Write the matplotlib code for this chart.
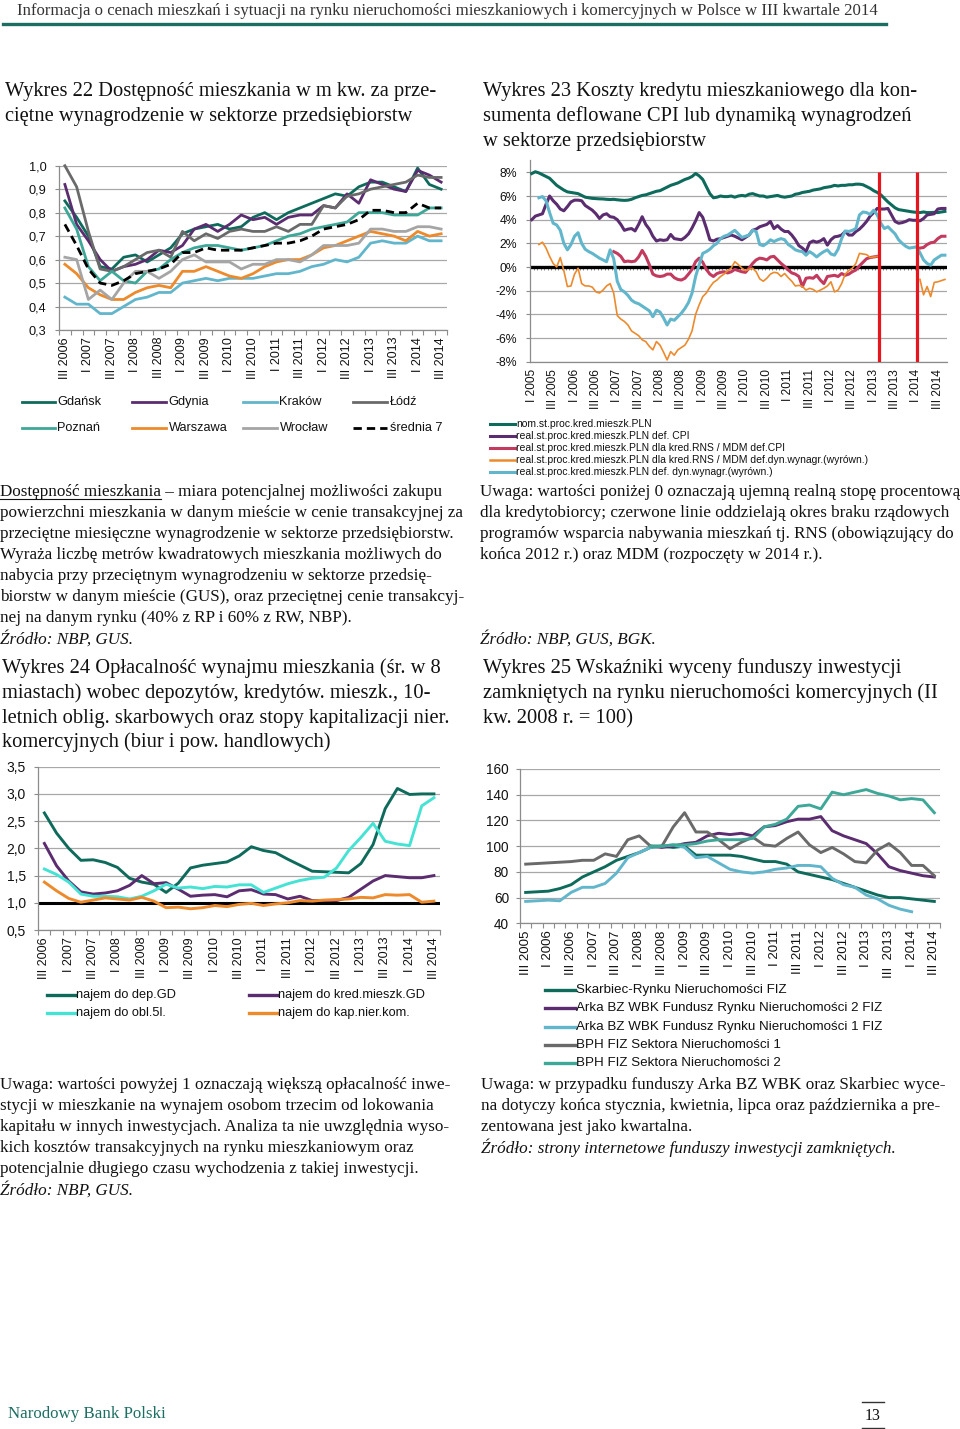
import numpy as np
import matplotlib
matplotlib.use('Agg')
import matplotlib.pyplot as plt
from matplotlib.lines import Line2D

nan = np.nan

# ---------------- Wykres 22 data (quarterly, III 2006 - III 2014) ----------------
lab22 = ['III 2006', 'I 2007', 'III 2007', 'I 2008', 'III 2008', 'I 2009', 'III 2009',
         'I 2010', 'III 2010', 'I 2011', 'III 2011', 'I 2012', 'III 2012', 'I 2013',
         'III 2013', 'I 2014', 'III 2014']
gdansk = [0.85, 0.78, 0.70, 0.57, 0.56, 0.61, 0.62, 0.59, 0.62, 0.65, 0.71, 0.73, 0.74, 0.75, 0.73, 0.74,
          0.78, 0.80, 0.77, 0.80, 0.82, 0.84, 0.86, 0.88, 0.87, 0.91, 0.93, 0.93, 0.91, 0.89, 0.99, 0.92, 0.90]
gdynia = [0.92, 0.75, 0.68, 0.60, 0.55, 0.57, 0.58, 0.60, 0.64, 0.63, 0.66, 0.73, 0.75, 0.72, 0.75, 0.79,
          0.77, 0.78, 0.75, 0.78, 0.79, 0.79, 0.83, 0.82, 0.88, 0.84, 0.94, 0.92, 0.90, 0.89, 0.98, 0.96, 0.93]
krakow = [0.44, 0.41, 0.41, 0.37, 0.37, 0.40, 0.43, 0.44, 0.46, 0.46, 0.50, 0.51, 0.52, 0.51, 0.52, 0.52,
          0.52, 0.53, 0.54, 0.54, 0.55, 0.57, 0.58, 0.60, 0.59, 0.61, 0.67, 0.68, 0.67, 0.67, 0.70, 0.68, 0.68]
lodz = [1.00, 0.91, 0.72, 0.56, 0.55, 0.57, 0.60, 0.63, 0.64, 0.61, 0.72, 0.68, 0.71, 0.69, 0.72, 0.73,
        0.72, 0.72, 0.74, 0.72, 0.75, 0.75, 0.83, 0.82, 0.87, 0.88, 0.90, 0.91, 0.92, 0.93, 0.96, 0.95, 0.95]
poznan = [0.82, 0.73, 0.57, 0.51, 0.55, 0.51, 0.50, 0.55, 0.56, 0.60, 0.63, 0.65, 0.66, 0.66, 0.65, 0.64,
          0.65, 0.66, 0.68, 0.70, 0.71, 0.73, 0.74, 0.75, 0.76, 0.80, 0.80, 0.80, 0.79, 0.79, 0.79, 0.82, 0.82]
warszawa = [0.58, 0.54, 0.48, 0.45, 0.43, 0.43, 0.46, 0.48, 0.49, 0.48, 0.55, 0.55, 0.57, 0.55, 0.53, 0.52,
            0.54, 0.57, 0.59, 0.60, 0.60, 0.62, 0.65, 0.66, 0.68, 0.70, 0.72, 0.71, 0.70, 0.68, 0.72, 0.70, 0.71]
wroclaw = [0.61, 0.60, 0.43, 0.47, 0.43, 0.50, 0.55, 0.55, 0.52, 0.55, 0.60, 0.62, 0.59, 0.59, 0.59, 0.56,
           0.58, 0.58, 0.60, 0.60, 0.59, 0.62, 0.66, 0.66, 0.66, 0.67, 0.73, 0.73, 0.72, 0.72, 0.74, 0.74, 0.73]
srednia7 = [0.75, 0.66, 0.56, 0.50, 0.49, 0.51, 0.54, 0.55, 0.56, 0.58, 0.63, 0.63, 0.65, 0.64, 0.64, 0.64,
            0.65, 0.66, 0.67, 0.67, 0.68, 0.70, 0.73, 0.74, 0.75, 0.77, 0.81, 0.81, 0.80, 0.80, 0.84, 0.82, 0.82]
names22 = ['Gdańsk', 'Gdynia', 'Kraków', 'Łódź', 'Poznań', 'Warszawa', 'Wrocław', 'średnia 7']

# ---------------- Wykres 23 data (monthly, I 2005 - IX 2014), % ----------------
lab23 = ['I 2005', 'III 2005', 'I 2006', 'III 2006', 'I 2007', 'III 2007', 'I 2008', 'III 2008',
         'I 2009', 'III 2009', 'I 2010', 'III 2010', 'I 2011', 'III 2011', 'I 2012', 'III 2012',
         'I 2013', 'III 2013', 'I 2014', 'III 2014']
nom = [7.9, 8.05, 7.95, 7.8, 7.65, 7.5, 7.2, 6.9, 6.7, 6.5,
       6.35, 6.3, 6.25, 6.2, 6.05, 5.9, 5.85, 5.8, 5.78, 5.76,
       5.75, 5.72, 5.7, 5.72, 5.68, 5.65, 5.63, 5.65, 5.72, 5.85,
       5.95, 6.05, 6.1, 6.2, 6.3, 6.4, 6.45, 6.6, 6.75, 6.9,
       7.0, 7.1, 7.25, 7.4, 7.5, 7.65, 7.9, 7.7, 7.4, 6.8,
       6.2, 5.85, 5.9, 6.0, 5.95, 5.95, 6.0, 5.9, 6.0, 6.05,
       6.0, 6.15, 6.2, 6.1, 6.0, 6.0, 5.9, 5.95, 6.0, 6.05,
       5.95, 5.9, 5.95, 6.0, 6.15, 6.2, 6.3, 6.35, 6.4, 6.5,
       6.55, 6.6, 6.7, 6.75, 6.8, 6.9, 6.85, 6.9, 6.9, 6.95,
       6.95, 7.0, 7.0, 6.95, 6.8, 6.65, 6.45, 6.3, 6.1, 5.8,
       5.5, 5.25, 5.0, 4.85, 4.8, 4.75, 4.7, 4.65, 4.62, 4.6,
       4.65, 4.6, 4.6, 4.62, 4.6, 4.65, 4.7]
real_cpi = [4.0, 4.3, 4.4, 4.5, 5.3, 6.0, 5.6, 5.3, 4.9, 4.75,
            5.1, 5.5, 5.65, 5.65, 5.6, 5.2, 5.0, 4.8, 4.5, 4.1,
            4.4, 4.5, 4.25, 4.2, 4.0, 3.6, 3.1, 3.2, 3.25, 3.05,
            3.6, 4.25, 3.6, 3.2, 2.6, 2.2, 2.3, 2.25, 2.3, 2.75,
            2.4, 2.35, 2.3, 2.5, 2.8, 3.3, 3.9, 4.6, 4.2, 3.3,
            2.3, 2.2, 2.35, 2.4, 2.5, 2.6, 2.7, 2.6, 2.45, 2.3,
            2.5, 2.7, 3.1, 3.2, 3.4, 3.5, 3.6, 3.85, 3.25, 3.5,
            3.2, 3.0, 3.0, 2.7, 2.3, 1.8, 1.6, 1.3, 2.05, 2.2,
            2.1, 2.2, 2.4, 1.85, 2.3, 2.55, 2.6, 2.7, 3.0, 2.7,
            2.7, 3.0, 3.2, 3.5, 3.85, 4.3, 4.6, 4.95, 4.9, 4.9,
            4.95, 4.4, 3.85, 3.7, 3.75, 3.85, 4.0, 3.95, 3.95, 3.9,
            4.1, 4.4, 4.45, 4.5, 4.9, 4.95, 4.95]
rns_cpi = [nan, nan, nan, nan, nan, nan, nan, nan, nan, nan,
           nan, nan, nan, nan, nan, nan, nan, nan, nan, nan,
           nan, nan, nan, 1.3, 1.15, 0.9, 0.45, 0.5, 0.45, 0.5,
           0.85, 1.4, 0.9, 0.2, -0.6, -0.75, -0.8, -0.75, -0.6, -0.6,
           -0.9, -1.05, -1.1, -0.95, -0.6, -0.2, 0.45, 0.75, 0.4, -0.2,
           -0.6, -0.8, -0.55, -0.45, -0.4, -0.5, -0.4, -0.2, -0.3, -0.4,
           -0.45, -0.1, 0.3, 0.6, 0.75, 0.7, 0.6, 0.85, 0.9, 0.6,
           0.3, 0.05, -0.25, -0.5, -0.6, -0.8, -1.65, -0.95, -0.9, -0.95,
           -0.7, -1.1, -1.4, -0.8, -0.75, -0.7, -0.8, -0.55, -0.7, -0.6,
           -0.4, -0.25, 0.1, 0.4, 0.7, 0.8, 0.85, 0.9, nan, nan,
           nan, nan, nan, nan, nan, nan, nan, nan, nan, 1.6,
           1.65, 1.9, 2.05, 2.1, 2.4, 2.6, 2.6]
rns_wage = [nan, nan, 1.9, 2.1, 1.6, 0.9, 0.3, 0.0, 0.8, -0.3,
            -1.65, -1.6, -0.6, -0.1, -1.4, -1.6, -1.6, -1.7, -2.1, -2.2,
            -1.95, -1.6, -1.4, -2.2, -4.1, -4.4, -4.6, -4.9, -5.4, -5.6,
            -5.8, -6.15, -6.3, -6.7, -7.0, -6.3, -6.6, -7.2, -7.85, -7.15,
            -7.45, -7.0, -6.8, -6.6, -6.1, -5.4, -4.0, -3.2, -2.5, -2.2,
            -1.7, -1.3, -1.1, -0.8, -0.6, -0.3, -0.1, 0.45, 0.2, -0.1,
            -0.3, -0.2, -0.1, -0.4, -1.0, -1.2, -0.95, -0.6, -0.45, -0.5,
            -0.8, -0.55, -0.9, -1.2, -1.6, -1.55, -1.65, -1.95, -1.8, -1.9,
            -2.1, -1.95, -1.8, -1.6, -1.25, -2.1, -1.95, -1.4, -0.6, -0.3,
            -0.1, 0.3, 1.15, 1.1, 1.05, 0.8, 0.85, 0.9, nan, nan,
            nan, nan, nan, nan, nan, nan, nan, nan, nan, -1.05,
            -2.35, -1.65, -2.5, -1.3, -1.25, -1.15, -1.05]
real_wage = [nan, nan, 5.85, 5.95, 5.6, 4.6, 3.7, 3.55, 3.1, 2.0,
             1.45, 1.9, 2.6, 2.9, 2.0, 1.5, 1.3, 1.15, 0.95, 0.75,
             0.6, 0.45, 1.45, 0.7, -1.2, -1.9, -2.1, -2.4, -2.8, -3.0,
             -3.1, -3.3, -3.5, -3.7, -4.2, -3.65, -3.8, -4.3, -4.9, -4.4,
             -4.5, -4.2, -3.9, -3.5, -3.0, -2.2, -0.8, 0.2, 1.15, 1.3,
             1.5, 1.8, 2.0, 2.4, 2.6, 2.7, 2.9, 3.1, 2.8, 2.5,
             2.6, 2.7, 3.1, 3.0, 1.9, 1.8, 2.0, 2.3, 2.15, 2.3,
             2.4, 2.3, 1.9, 1.7, 1.45, 1.35, 1.3, 1.0, 1.3, 1.1,
             0.85, 1.1, 1.3, 1.45, 1.1, 1.0, 1.5, 2.4, 3.05, 3.0,
             3.1, 3.25, 4.4, 4.65, 4.6, 4.45, 4.8, 4.4, 3.7, 3.25,
             3.4, 3.1, 2.8, 2.3, 2.0, 1.75, 1.6, 1.65, 1.7, 1.2,
             0.6, 0.3, 0.15, 0.6, 0.8, 1.0, 1.0]
programme_breaks = [97.5, 108.2]   # red lines (end of RNS / start of MDM)
names23 = ['nom.st.proc.kred.mieszk.PLN',
           'real.st.proc.kred.mieszk.PLN def. CPI',
           'real.st.proc.kred.mieszk.PLN dla kred.RNS / MDM def.CPI',
           'real.st.proc.kred.mieszk.PLN dla kred.RNS / MDM def.dyn.wynagr.(wyrówn.)',
           'real.st.proc.kred.mieszk.PLN def. dyn.wynagr.(wyrówn.)']

# ---------------- Wykres 24 data (quarterly, III 2006 - III 2014) ----------------
lab24 = lab22
dep_gd = [2.65, 2.28, 2.0, 1.78, 1.79, 1.74, 1.65, 1.45, 1.38, 1.34, 1.19, 1.36, 1.64, 1.69, 1.72, 1.75,
          1.86, 2.03, 1.96, 1.92, 1.80, 1.69, 1.58, 1.57, 1.56, 1.55, 1.72, 2.07, 2.73, 3.10, 2.99, 3.00, 3.00]
kred_gd = [2.09, 1.68, 1.40, 1.20, 1.16, 1.18, 1.22, 1.32, 1.50, 1.35, 1.37, 1.25, 1.12, 1.14, 1.15, 1.11,
           1.22, 1.24, 1.16, 1.15, 1.07, 1.12, 1.04, 1.04, 1.04, 1.10, 1.25, 1.40, 1.50, 1.48, 1.46, 1.46, 1.50]
obl_5l = [1.62, 1.52, 1.38, 1.16, 1.12, 1.12, 1.11, 1.07, 1.12, 1.22, 1.34, 1.27, 1.29, 1.26, 1.30, 1.29,
          1.33, 1.33, 1.19, 1.27, 1.35, 1.41, 1.45, 1.47, 1.64, 1.96, 2.20, 2.46, 2.13, 2.08, 2.05, 2.78, 2.93]
kap_nier = [1.38, 1.22, 1.08, 1.01, 1.05, 1.09, 1.07, 1.05, 1.10, 1.03, 0.91, 0.92, 0.89, 0.91, 0.95, 0.93,
            0.97, 0.99, 0.95, 0.98, 1.00, 1.04, 1.03, 1.05, 1.06, 1.07, 1.10, 1.09, 1.15, 1.14, 1.15, 1.01, 1.03]
names24 = ['najem do dep.GD', 'najem do kred.mieszk.GD', 'najem do obl.5l.', 'najem do kap.nier.kom.']

# ---------------- Wykres 25 data (quarterly, III 2005 - III 2014) ----------------
lab25 = ['III 2005', 'I 2006', 'III 2006', 'I 2007', 'III 2007', 'I 2008', 'III 2008', 'I 2009',
         'III 2009', 'I 2010', 'III 2010', 'I 2011', 'III 2011', 'I 2012', 'III 2012', 'I 2013',
         'III  2013', 'I 2014', 'III 2014']
skarbiec = [64, 64.5, 65, 67, 70, 76, 80, 84, 89, 92, 95, 99, 100, 99, 100, 93, 93, 93, 93, 92,
            90, 88, 88, 86, 80, 78, 76, 74, 71, 68, 65, 62, 60, 60, 59, 58, 57]
arka2 = [nan, nan, nan, nan, nan, nan, nan, nan, nan, nan, nan, 100, 99, 100, 102, 103, 108, 110, 109, 110,
         108, 115, 116, 119, 121, 121, 123, 112, 108, 105, 102, 94, 84, 81, 79, 77, 76]
arka1 = [57, 57.5, 58, 57.5, 64, 68, 68, 71, 79, 91, 95, 99, 100, 101, 99, 91, 92, 87, 82, 80,
         79, 80, 82, 83, 85, 85, 84, 75, 70, 68, 62, 59, 54, 51, 49, nan, nan]
bph1 = [86, 86.5, 87, 87.5, 88, 89, 89, 94, 92, 105, 108, 100, 100, 115, 126, 111, 111, 105, 98, 103,
        107, 101, 100, 106, 111, 101, 95, 99, 94, 88, 87, 97, 102, 95, 85, 85, 77]
bph2 = [nan, nan, nan, nan, nan, nan, nan, nan, nan, nan, nan, 100, 100, 101, 101, 102, 104, 105, 105, 105,
        106, 115, 117, 121, 131, 132, 129, 142, 140, 142, 144, 141, 139, 136, 137, 136, 126]
names25 = ['Skarbiec-Rynku Nieruchomości FIZ', 'Arka BZ WBK Fundusz Rynku Nieruchomości 2 FIZ',
           'Arka BZ WBK Fundusz Rynku Nieruchomości 1 FIZ', 'BPH FIZ Sektora Nieruchomości 1',
           'BPH FIZ Sektora Nieruchomości 2']

# ---------------- colours ----------------
C_DTEAL = '#0E6B5C'
C_PURPLE = '#5B2C6F'
C_LBLUE = '#62B6CC'
C_DGREY = '#6A6A6A'
C_TEAL = '#3EA898'
C_ORANGE = '#EC8A2C'
C_LGREY = '#A5A5A5'
C_CRIMSON = '#C23A5E'
C_TURQ = '#45E3D4'
C_RED = '#E5161D'
GRID = '#A8A8A8'
AXC = '#8C8C8C'

# ---------------- page helpers ----------------
W, H = 960, 1429
fig = plt.figure(figsize=(W / 100, H / 100), dpi=100)
fig.patch.set_facecolor('white')
SERIF = ['Liberation Serif', 'DejaVu Serif']
SANS = ['Liberation Sans', 'DejaVu Sans']
plt.rcParams['font.family'] = SANS


def X(px):
    return px / W


def Y(py):
    return 1 - py / H


def add_ax(l, t, r, b):
    return fig.add_axes([X(l), Y(b), (r - l) / W, (b - t) / H])


def txt(x, y, s, size=12.3, italic=False, color='#111111', family=SERIF, ha='left', va='baseline'):
    return fig.text(X(x), Y(y), s, fontsize=size, family=family,
                    style='italic' if italic else 'normal', color=color, ha=ha, va=va)


def hline(x0, x1, y, color, lw, ls='-'):
    fig.add_artist(Line2D([X(x0), X(x1)], [Y(y), Y(y)], color=color, lw=lw, ls=ls,
                          transform=fig.transFigure))


def legend_item(x0, x1, y, color, label, size, lw=2.2, ls='-', gap=2):
    hline(x0, x1, y, color, lw, ls)
    fig.text(X(x1 + gap), Y(y), label, fontsize=size, family=SANS, va='center', ha='left', color='#111111')


def style(ax, n, ylim, yticks, ylabels, xpos, xlabels, ysize=9, xsize=9, ypad=7, xpad=4, minor=True):
    ax.set_xlim(-0.5, n - 0.5)
    ax.set_ylim(*ylim)
    ax.set_yticks(yticks)
    ax.set_yticklabels(ylabels, fontsize=ysize, family=SANS, color='#111111')
    ax.grid(axis='y', color=GRID, lw=0.9)
    ax.set_axisbelow(True)
    for s in ('top', 'right'):
        ax.spines[s].set_visible(False)
    for s in ('left', 'bottom'):
        ax.spines[s].set_color(AXC)
        ax.spines[s].set_linewidth(0.9)
    ax.set_xticks(xpos)
    ax.set_xticklabels(xlabels, rotation=90, fontsize=xsize, family=SANS, color='#111111')
    ax.tick_params(axis='x', which='major', length=0, pad=xpad)
    if minor:
        ax.set_xticks(np.arange(-0.5, n, 1.0), minor=True)
        ax.tick_params(axis='x', which='minor', length=3.5, color=AXC, width=0.8)
    ax.tick_params(axis='y', length=3, color=AXC, pad=ypad, width=0.8)
    ax.patch.set_alpha(0)


def comma(v, nd=1):
    return f'{v:.{nd}f}'.replace('.', ',')


# ---------------- header / footer ----------------
txt(17, 15, 'Informacja o cenach mieszkań i sytuacji na rynku nieruchomości mieszkaniowych i komercyjnych '
    'w Polsce w III kwartale 2014', size=12.1, color='#333333')
hline(3, 886, 23.5, '#1C6E62', 2.4)
txt(8, 1418, 'Narodowy Bank Polski', size=12.2, color='#1C6E62')
txt(873, 1420, '13', size=11.5, ha='center')
hline(862, 884, 1402, '#333333', 1.0)
hline(862, 884, 1428, '#333333', 1.0)

# ---------------- titles ----------------
TS = 14.8
txt(5, 96, 'Wykres 22 Dostępność mieszkania w m kw. za prze-', size=TS)
txt(5, 121, 'ciętne wynagrodzenie w sektorze przedsiębiorstw', size=TS)
txt(483, 96, 'Wykres 23 Koszty kredytu mieszkaniowego dla kon-', size=TS)
txt(483, 121, 'sumenta deflowane CPI lub dynamiką wynagrodzeń', size=TS)
txt(483, 146, 'w sektorze przedsiębiorstw', size=TS)
txt(2, 673, 'Wykres 24 Opłacalność wynajmu mieszkania (śr. w 8', size=TS)
txt(2, 698, 'miastach) wobec depozytów, kredytów. mieszk., 10-', size=TS)
txt(2, 723, 'letnich oblig. skarbowych oraz stopy kapitalizacji nier.', size=TS)
txt(2, 747, 'komercyjnych (biur i pow. handlowych)', size=TS)
txt(483, 673, 'Wykres 25 Wskaźniki wyceny funduszy inwestycji', size=TS)
txt(483, 698, 'zamkniętych na rynku nieruchomości komercyjnych (II', size=TS)
txt(483, 723, 'kw. 2008 r. = 100)', size=TS)

# ---------------- body texts ----------------
BS = 12.3
renderer = fig.canvas.get_renderer()
left_lines = ['Dostępność mieszkania – miara potencjalnej możliwości zakupu',
              'powierzchni mieszkania w danym mieście w cenie transakcyjnej za',
              'przeciętne miesięczne wynagrodzenie w sektorze przedsiębiorstw.',
              'Wyraża liczbę metrów kwadratowych mieszkania możliwych do',
              'nabycia przy przeciętnym wynagrodzeniu w sektorze przedsię-',
              'biorstw w danym mieście (GUS), oraz przeciętnej cenie transakcyj-',
              'nej na danym rynku (40% z RP i 60% z RW, NBP).']
for i, s in enumerate(left_lines):
    txt(0, 496 + 21 * i, s, size=BS)
tmp = txt(0, 496, 'Dostępność mieszkania', size=BS)
wpx = tmp.get_window_extent(renderer).width
tmp.remove()
hline(0, wpx, 499, '#111111', 0.8)
txt(0, 644, 'Źródło: NBP, GUS.', size=BS, italic=True)

right_lines = ['Uwaga: wartości poniżej 0 oznaczają ujemną realną stopę procentową',
               'dla kredytobiorcy; czerwone linie oddzielają okres braku rządowych',
               'programów wsparcia nabywania mieszkań tj. RNS (obowiązujący do',
               'końca 2012 r.) oraz MDM (rozpoczęty w 2014 r.).']
for i, s in enumerate(right_lines):
    txt(480, 496 + 21 * i, s, size=BS)
txt(480, 644, 'Źródło: NBP, GUS, BGK.', size=BS, italic=True)

t24 = ['Uwaga: wartości powyżej 1 oznaczają większą opłacalność inwe-',
       'stycji w mieszkanie na wynajem osobom trzecim od lokowania',
       'kapitału w innych inwestycjach. Analiza ta nie uwzględnia wyso-',
       'kich kosztów transakcyjnych na rynku mieszkaniowym oraz',
       'potencjalnie długiego czasu wychodzenia z takiej inwestycji.']
for i, s in enumerate(t24):
    txt(0, 1089 + 21 * i, s, size=BS)
txt(0, 1195, 'Źródło: NBP, GUS.', size=BS, italic=True)

t25 = ['Uwaga: w przypadku funduszy Arka BZ WBK oraz Skarbiec wyce-',
       'na dotyczy końca stycznia, kwietnia, lipca oraz października a pre-',
       'zentowana jest jako kwartalna.']
for i, s in enumerate(t25):
    txt(481, 1089 + 21 * i, s, size=BS)
txt(481, 1153, 'Źródło: strony internetowe funduszy inwestycji zamkniętych.', size=BS, italic=True)

# ---------------- Wykres 22 ----------------
ax22 = add_ax(59, 165.7, 447, 330)
series22 = [gdansk, gdynia, krakow, lodz, poznan, warszawa, wroclaw, srednia7]
cols22 = [C_DTEAL, C_PURPLE, C_LBLUE, C_DGREY, C_TEAL, C_ORANGE, C_LGREY, 'black']
for vals, col, nm in zip(series22, cols22, names22):
    ls = (0, (3, 1.8)) if nm == 'średnia 7' else '-'
    ax22.plot(np.arange(len(vals)), vals, color=col, lw=2.0, ls=ls, clip_on=False,
              solid_joinstyle='round')
yt22 = np.round(np.arange(0.3, 1.05, 0.1), 1)
style(ax22, len(gdansk), (0.3, 1.0), yt22, [comma(v) for v in yt22],
      np.arange(0, len(gdansk), 2), lab22, ysize=9.2, xsize=9, ypad=6, xpad=5)

leg22_pos = [(21.7, 55), (132, 166), (243, 277), (353, 387)]
for k, (nm, col) in enumerate(zip(names22, cols22)):
    x0, x1 = leg22_pos[k % 4]
    yy = 401.7 if k < 4 else 428.3
    ls = (0, (3, 1.8)) if nm == 'średnia 7' else '-'
    legend_item(x0, x1, yy, col, nm, 9.2, lw=2.0, ls=ls, gap=2.5)

# ---------------- Wykres 23 ----------------
ax23 = add_ax(530, 160.5, 946.7, 361.7)
n23 = len(nom)
style(ax23, n23, (-8, 9), np.arange(-8, 9, 2), [f'{v}%' for v in range(-8, 9, 2)],
      np.arange(0, n23, 6), lab23, ysize=8.8, xsize=8.6, ypad=6, xpad=5, minor=False)
ax23.axhline(0, color='black', lw=2.4, zorder=2.5)
ax23.vlines(np.arange(-0.5, n23, 1.0), -0.28, 0, colors='#777777', lw=0.6, zorder=2.4)
series23 = [nom, real_cpi, rns_cpi, rns_wage, real_wage]
cols23 = [C_DTEAL, C_PURPLE, C_CRIMSON, C_ORANGE, C_LBLUE]
lws23 = [2.2, 2.2, 2.2, 1.2, 2.2]
for vals, col, lw in zip(series23, cols23, lws23):
    ax23.plot(np.arange(len(vals)), np.array(vals, dtype=float), color=col, lw=lw, zorder=3,
              solid_joinstyle='round')
ax23.vlines(programme_breaks, -8, 8, colors=C_RED, lw=2.3, zorder=5)

leg23_y = [424, 435.8, 447.7, 460, 472.2]
for nm, col, yy, lw in zip(names23, cols23, leg23_y, [2.2, 2.2, 2.2, 1.8, 2.2]):
    legend_item(490, 515, yy, col, nm, 7.5, lw=lw, gap=1.5)

# ---------------- Wykres 24 ----------------
ax24 = add_ax(38.3, 766.7, 440, 930)
n24 = len(dep_gd)
yt24 = np.arange(0.5, 3.6, 0.5)
style(ax24, n24, (0.5, 3.5), yt24, [comma(v) for v in yt24],
      np.arange(0, n24, 2), lab24, ysize=10, xsize=9, ypad=6, xpad=5)
ax24.axhline(1.0, color='black', lw=2.2, zorder=2.5)
series24 = [dep_gd, kred_gd, obl_5l, kap_nier]
cols24 = [C_DTEAL, C_PURPLE, C_TURQ, C_ORANGE]
for vals, col in zip(series24, cols24):
    ax24.plot(np.arange(len(vals)), vals, color=col, lw=2.1, zorder=3, solid_joinstyle='round')
leg24_pos = [(46.7, 75), (249, 277), (46.7, 75), (249, 277)]
leg24_y = [995, 995, 1013, 1013]
for nm, col, (x0, x1), yy in zip(names24, cols24, leg24_pos, leg24_y):
    legend_item(x0, x1, yy, col, nm, 9.2, lw=2.4, gap=1.5)

# ---------------- Wykres 25 ----------------
ax25 = add_ax(520, 769, 940, 923.3)
n25 = len(skarbiec)
yt25 = np.arange(40, 161, 20)
style(ax25, n25, (40, 160), yt25, [str(v) for v in yt25],
      np.arange(0, n25, 2), lab25, ysize=9.8, xsize=9.5, ypad=5, xpad=5)
series25 = [skarbiec, arka2, arka1, bph1, bph2]
cols25 = [C_DTEAL, C_PURPLE, C_LBLUE, C_DGREY, C_TEAL]
for vals, col in zip(series25, cols25):
    ax25.plot(np.arange(len(vals)), np.array(vals, dtype=float), color=col, lw=2.1, zorder=3,
              solid_joinstyle='round')
leg25_y = [990, 1008.3, 1026.7, 1045, 1063.3]
for nm, col, yy in zip(names25, cols25, leg25_y):
    legend_item(545, 575, yy, col, nm, 9.6, lw=2.4, gap=1.5)

fig.savefig('out.png', dpi=100, facecolor='white')
